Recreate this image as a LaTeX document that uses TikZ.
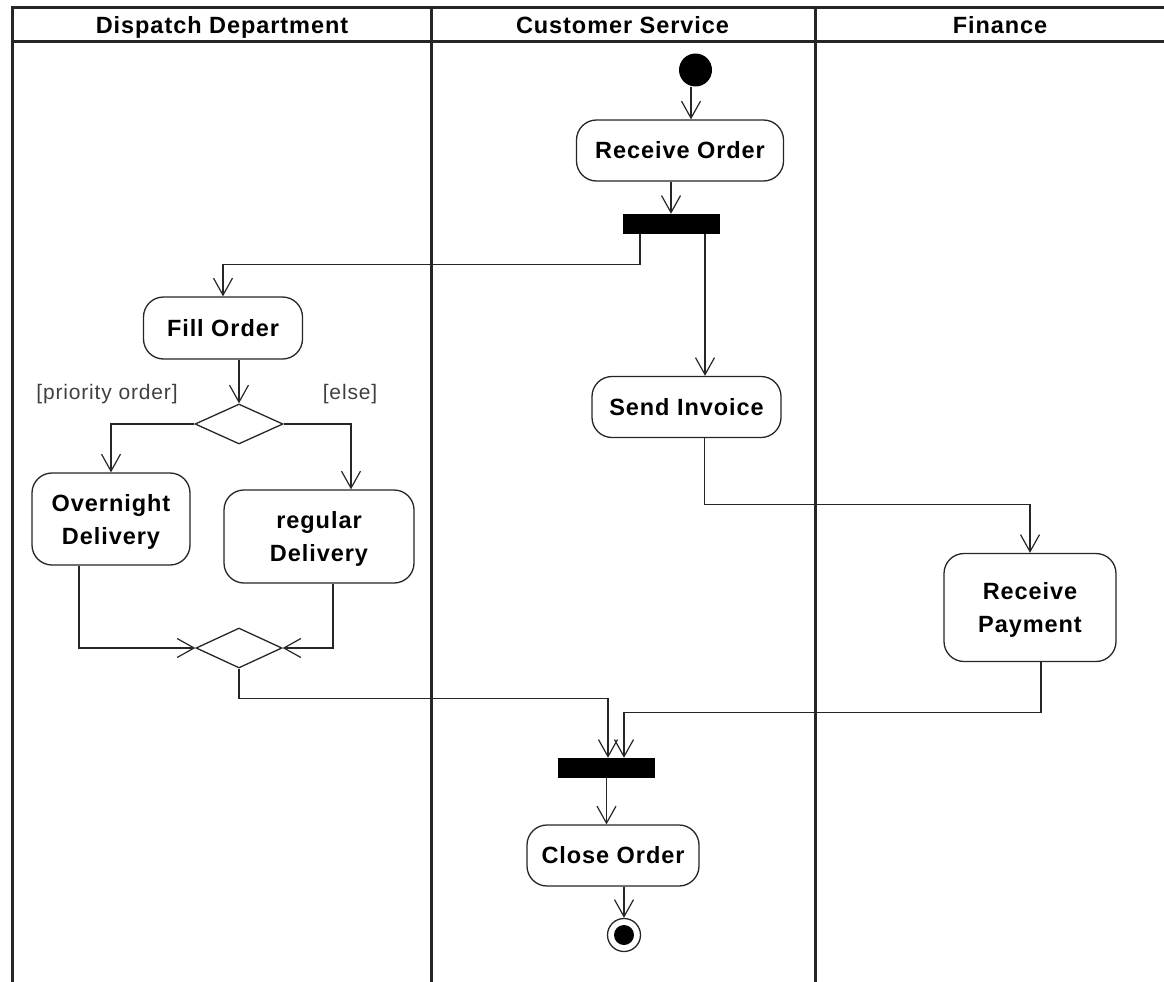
\documentclass[tikz,border=0pt]{standalone}
\usepackage{fontspec}
\setmainfont{Liberation Sans}
\newfontfamily\dgmfont{Liberation Sans}[LetterSpace=4]
\newcommand\actfont{\dgmfont\bfseries\fontsize{23.5}{33}\selectfont}
\newcommand\guardfont{\dgmfont\fontsize{21}{24}\selectfont}
\usetikzlibrary{arrows.meta,shapes.geometric}
\begin{document}
\begin{tikzpicture}[x=1pt,y=-1pt,
  lane/.style={line width=3pt, draw=black!85, line join=miter},
  hdr/.style={font=\actfont, anchor=base, inner sep=0pt},
  act/.style={draw=black!85, line width=1.3pt, rounded corners=20pt, fill=white,
    align=center, inner sep=0pt, font=\actfont},
  bar/.style={fill=black, draw=none, minimum width=97pt, minimum height=20pt, inner sep=0pt},
  dec/.style={diamond, draw=black!85, line width=1.3pt, fill=white, inner sep=0pt,
    minimum width=88pt, minimum height=40pt},
  guard/.style={font=\guardfont, text=black!75, inner sep=0pt},
  startnode/.style={circle, fill=black, minimum size=33pt, inner sep=0pt},
  endnode/.style={circle, draw=black!85, line width=1.3pt, fill=white, minimum size=33pt, inner sep=0pt},
  flow/.style={draw=black!85, line width=1.2pt, -{Straight Barb[length=17pt,width=19pt]}}
]
\useasboundingbox (0,0) rectangle (1164,982);
% swimlanes
\draw[lane] (12.5,995) -- (12.5,7.5) -- (1170,7.5);
\draw[lane] (11,41.5) -- (1170,41.5);
\draw[lane] (431,7.5) -- (431,995);
\draw[lane] (815,7.5) -- (815,995);
\node[hdr] (h1) at (222,34) {Dispatch Department};
\node[hdr] (h2) at (622.5,34) {Customer Service};
\node[hdr] (h3) at (1000,34) {Finance};

% nodes
\node[startnode] (init) at (695.5,70) {};
\node[act, minimum width=207pt, minimum height=61pt] (recv) at (680,150.5) {Receive Order};
\node[bar] (fork1) at (671,224) {};
\node[act, minimum width=159pt, minimum height=62pt] (fill) at (223,328) {Fill Order};
\node[dec] (dec1) at (239,424) {};
\node[guard] (g1) at (107,394) {[priority order]};
\node[guard] (g2) at (350,394) {[else]};
\node[act, minimum width=158pt, minimum height=92pt] (over) at (111,519) {\rule{0pt}{22pt}Overnight\\Delivery};
\node[act, minimum width=190pt, minimum height=93pt] (reg) at (319,536.5) {\rule{0pt}{22pt}regular\\Delivery};
\node[dec, minimum width=86pt] (dec2) at (239,648) {};
\node[act, minimum width=189pt, minimum height=61pt] (inv) at (686.5,407) {Send Invoice};
\node[act, minimum width=172pt, minimum height=108pt] (pay) at (1030,607.5) {\rule{0pt}{22pt}Receive\\Payment};
\node[bar] (join) at (606.5,768) {};
\node[act, minimum width=172pt, minimum height=61pt] (close) at (613,855.5) {Close Order};
\node[endnode] (fin) at (624,935) {};
\fill[black] (fin.center) circle (10pt);

% connectors
\coordinate (p1) at ([xshift=-4.5pt]init.south);
\draw[flow] (p1) -- (p1 |- recv.north);
\draw[flow] (recv.south -| fork1.north) -- (fork1.north);
\coordinate (p3) at ([xshift=-31pt]fork1.south);
\draw[flow] (p3) -- ++(0,30) -| (fill.north);
\coordinate (p4) at ([xshift=34pt]fork1.south);
\draw[flow] (p4) -- (p4 |- inv.north);
\draw[flow] (fill.south -| dec1.north) -- (dec1.north);
\draw[flow] (dec1.west) -| (over.north);
\coordinate (p7) at ([xshift=32pt]reg.north);
\draw[flow] (dec1.east) -| (p7);
\draw[flow] ([xshift=-32pt]over.south) |- (dec2.west);
\draw[flow] ([xshift=14pt]reg.south) |- (dec2.east);
\coordinate (p10) at ([xshift=1.5pt]join.north);
\draw[flow] (dec2.south) -- ++(0,30) -| (p10);
\draw[flow] ([xshift=18pt]inv.south) -- ++(0,66) -| (pay.north);
\coordinate (p12) at ([xshift=17.5pt]join.north);
\draw[flow] ([xshift=11pt]pay.south) -- ++(0,50.5) -| (p12);
\draw[flow] (join.south) -- (join.south |- close.north);
\draw[flow] (close.south -| fin.north) -- (fin.north);
\end{tikzpicture}
\end{document}
